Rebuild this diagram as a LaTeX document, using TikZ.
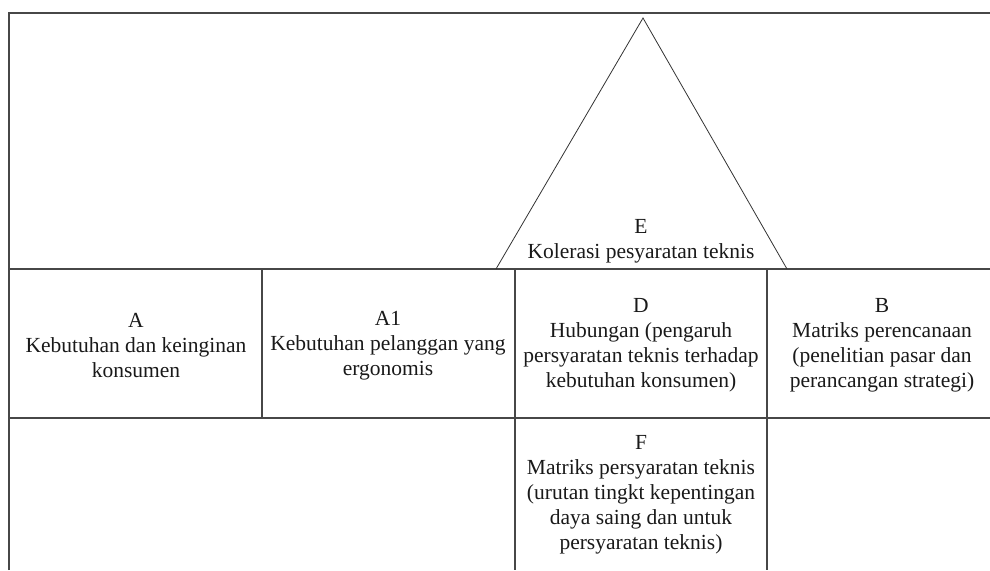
\documentclass[tikz,border=0pt]{standalone}
\usepackage{fontspec}
\setmainfont{Liberation Serif}
\begin{document}
\begin{tikzpicture}[x=1pt,y=-1pt,
  grid/.style={draw=black!72, line width=1.4pt},
  tri/.style={draw=black!80, line width=0.8pt, line join=miter},
  lbl/.style={align=center, font=\fontsize{21.5}{25}\selectfont, inner sep=0pt, text=black!90}]
\useasboundingbox (0,0) rectangle (990,570);
% frame coordinates
\coordinate (TL) at (9,13);
\coordinate (TR) at (990,13);
\coordinate (BL) at (9,570);
\coordinate (M1L) at (9,269);
\coordinate (M1R) at (990,269);
\coordinate (M2L) at (9,418);
\coordinate (M2R) at (990,418);
\coordinate (V1T) at (262,269);
\coordinate (V1B) at (262,418);
\coordinate (V2T) at (515,269);
\coordinate (V2B) at (515,570);
\coordinate (V3T) at (767,269);
\coordinate (V3B) at (767,570);
\coordinate (TriL) at (496,269);
\coordinate (TriA) at (643,18);
\coordinate (TriR) at (787,269);
% grid
\draw[grid] (BL) -- (TL) -- (TR);
\draw[grid] (M1L) -- (M1R);
\draw[grid] (M2L) -- (M2R);
\draw[grid] (V1T) -- (V1B);
\draw[grid] (V2T) -- (V2B);
\draw[grid] (V3T) -- (V3B);
% roof triangle
\draw[tri] (TriL) -- (TriA) -- (TriR);
% labels
\node[lbl] (E) at (641,241) {E\\Kolerasi pesyaratan teknis};
\node[lbl] (A) at (136,346) {A\\Kebutuhan dan keinginan\\konsumen};
\node[lbl] (A1) at (388,346) {A1\\Kebutuhan pelanggan yang\\ergonomis};
\node[lbl] (D) at (641,345) {D\\Hubungan (pengaruh\\persyaratan teknis terhadap\\kebutuhan konsumen)};
\node[lbl] (B) at (882,345) {B\\Matriks perencanaan\\(penelitian pasar dan\\perancangan strategi)};
\node[lbl] (F) at (641,495) {F\\Matriks persyaratan teknis\\(urutan tingkt kepentingan\\daya saing dan untuk\\persyaratan teknis)};
\end{tikzpicture}
\end{document}
